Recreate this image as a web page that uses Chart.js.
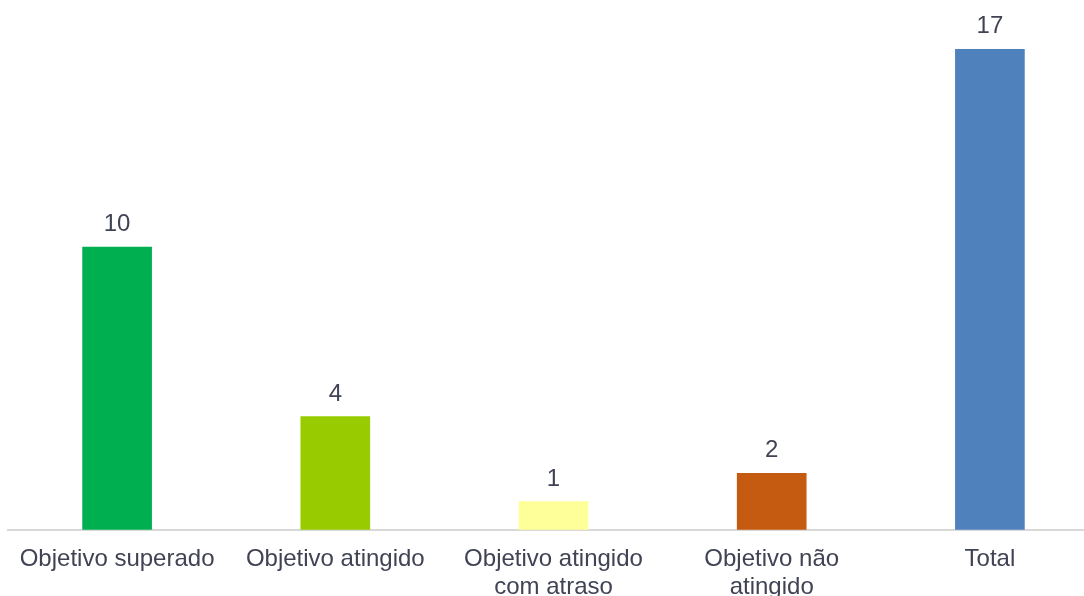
<!DOCTYPE html>
<html>
<head>
<meta charset="utf-8">
<script src="https://cdn.jsdelivr.net/npm/chart.js@4/dist/chart.umd.min.js"></script>
<style>
  html, body { margin: 0; padding: 0; background: #fff; overflow: hidden; }
  #wrap { width: 1100px; height: 616px; }
</style>
</head>
<body>
<div id="wrap"><canvas id="chart"></canvas></div>
<script>
// categories and values
var categories = [
    'Objetivo superado',
    'Objetivo atingido',
    ['Objetivo atingido', 'com atraso'],
    ['Objetivo não', 'atingido'],
    'Total'
];
var counts = [10, 4, 1, 2, 17];
var barColors = ['#00B050', '#99CC00', '#FFFF99', '#C55A11', '#4F81BD'];

var textColor = '#404354';
var fontFamily = '"Liberation Sans", Arial, sans-serif';

/* draws the value above each bar */
var valueLabels = {
    id: 'valueLabels',
    afterDatasetsDraw: function(chart) {
        var ctx = chart.ctx;
        var meta = chart.getDatasetMeta(0);
        ctx.save();
        ctx.fillStyle = textColor;
        ctx.font = '24px ' + fontFamily;
        ctx.textAlign = 'center';
        ctx.textBaseline = 'alphabetic';
        meta.data.forEach(function(bar, i) {
            ctx.fillText(String(counts[i]), bar.x, bar.y - 16);
        });
        ctx.restore();
    }
};

var ctx = document.getElementById('chart');
var graph = new Chart(ctx, {
    type: 'bar',
    data: {
        labels: categories,
        datasets: [{
            data: counts,
            backgroundColor: barColors,
            barThickness: 69
        }]
    },
    options: {
        responsive: true,
        maintainAspectRatio: false,
        animation: false,
        layout: {
            padding: { top: 49, left: 8, right: 1, bottom: 0 }
        },
        plugins: {
            legend: { display: false },
            tooltip: { enabled: false }
        },
        scales: {
            x: {
                grid: { display: false, drawTicks: false },
                border: { display: true, color: '#D9D9D9', width: 2 },
                ticks: {
                    color: textColor,
                    font: { family: fontFamily, size: 24, lineHeight: 1.17 },
                    padding: 15,
                    maxRotation: 0,
                    autoSkip: false
                }
            },
            y: {
                display: false,
                min: 0,
                max: 17
            }
        }
    },
    plugins: [valueLabels]
});
</script>
</body>
</html>
